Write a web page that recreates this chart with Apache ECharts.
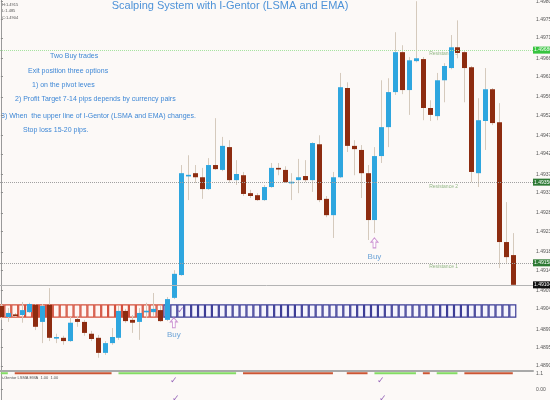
<!DOCTYPE html>
<html><head><meta charset="utf-8">
<script src="https://cdn.jsdelivr.net/npm/echarts@6/dist/echarts.min.js"></script>
<style>html,body{margin:0;padding:0;background:#fcf9f7}#c{width:550px;height:400px}</style>
</head><body><div id="c"></div>
<script>
// ---- data ----
const priceTicks = [1.498, 1.49755, 1.4971, 1.4966, 1.49615, 1.49565, 1.4952, 1.4947, 1.49425, 1.49375, 1.4933, 1.4928, 1.49235, 1.49185, 1.4914, 1.4909, 1.49045, 1.48995, 1.4895, 1.48905];
const opens = [1.49052,1.49025,1.49031,1.49030,1.49037,1.49055,1.49013,1.49055,1.48972,1.48974,1.48966,1.49020,1.49013,1.48984,1.48974,1.48937,1.48961,1.48974,1.49040,1.49018,1.49013,1.49037,1.49037,1.49042,1.49018,1.49072,1.49128,1.49371,1.49378,1.49368,1.49339,1.49398,1.49386,1.49442,1.49361,1.49373,1.49329,1.49324,1.49312,1.49344,1.49391,1.49386,1.49354,1.49361,1.49371,1.49361,1.49449,1.49315,1.49275,1.49368,1.49587,1.49445,1.49435,1.49378,1.49263,1.49420,1.49491,1.49577,1.49675,1.49582,1.49653,1.49658,1.49538,1.49518,1.49606,1.49636,1.49687,1.49675,1.49638,1.49378,1.49506,1.49584,1.49503,1.49209,1.49177];
const closes = [1.49025,1.49035,1.49028,1.49042,1.49057,1.49001,1.49052,1.48974,1.48976,1.48966,1.49011,1.49013,1.48986,1.48971,1.48937,1.48961,1.48976,1.49040,1.49015,1.49011,1.49035,1.49040,1.49045,1.49015,1.49069,1.49131,1.49378,1.49373,1.49368,1.49339,1.49398,1.49388,1.49445,1.49361,1.49376,1.49327,1.49322,1.49312,1.49344,1.49391,1.49387,1.49356,1.49356,1.49368,1.49361,1.49452,1.49312,1.49275,1.49368,1.49589,1.49445,1.49437,1.49378,1.49263,1.49420,1.49491,1.49577,1.49675,1.49582,1.49655,1.49660,1.49538,1.49521,1.49606,1.49641,1.49687,1.49673,1.49636,1.49381,1.49508,1.49584,1.49501,1.49209,1.49172,1.49104];
const highs = [1.49057,1.49047,1.49035,1.49062,1.49060,1.49057,1.49057,1.49096,1.48984,1.48979,1.49025,1.49028,1.49018,1.48991,1.48981,1.48966,1.48998,1.49052,1.49045,1.49030,1.49047,1.49060,1.49084,1.49052,1.49074,1.49140,1.49398,1.49422,1.49398,1.49391,1.49415,1.49513,1.49467,1.49459,1.49410,1.49381,1.49337,1.49329,1.49349,1.49403,1.49403,1.49395,1.49378,1.49413,1.49410,1.49454,1.49471,1.49322,1.49381,1.49624,1.49601,1.49459,1.49447,1.49398,1.49442,1.49606,1.49611,1.49724,1.49692,1.49663,1.49800,1.49663,1.49557,1.49624,1.49648,1.49717,1.49753,1.49680,1.49641,1.49562,1.49636,1.49587,1.49550,1.49307,1.49231];
const lows = [1.49018,1.49013,1.49025,1.49011,1.49035,1.48993,1.48961,1.48966,1.48961,1.48957,1.48964,1.49001,1.48979,1.48966,1.48925,1.48932,1.48957,1.48969,1.49011,1.48986,1.48969,1.49023,1.49028,1.49013,1.49015,1.49069,1.49126,1.49312,1.49354,1.49315,1.49337,1.49386,1.49383,1.49354,1.49349,1.49322,1.49317,1.49310,1.49310,1.49342,1.49373,1.49354,1.49312,1.49329,1.49356,1.49332,1.49307,1.49270,1.49219,1.49366,1.49430,1.49373,1.49317,1.49214,1.49231,1.49403,1.49442,1.49570,1.49572,1.49521,1.49650,1.49508,1.49506,1.49508,1.49552,1.49633,1.49660,1.49552,1.49356,1.49344,1.49435,1.49496,1.49145,1.49158,1.49101];
const levelNames = ['Resistance 3', 'Resistance 2', 'Resistance 1'];
const levelPrices = [1.49680, 1.49356, 1.49158];
const bidPrice = 1.49104;
const boxRuns = [[0, 23, 'sell'], [24, 74, 'buy']];
const boxBand = [1.49025, 1.49055];
const trendRuns = [[0,1,'up'],[2,16,'down'],[17,34,'up'],[35,48,'down'],[50,53,'down'],[54,60,'up'],[61,62,'down'],[63,66,'up'],[67,74,'down']];
const trendLevel = 1.1;
const indTicks = [0, 1.1];
const buyBars = [25, 54];
const buyArrowPrices = [1.49011, 1.49207];
const buyTextPrices = [1.48981, 1.49172];
const checkBars = [25, 55];
const notes = ['Two Buy trades', 'Exit position three options', '1) on the pivot leves', '2) Profit Target 7-14 pips depends by currency pairs', '3) When  the upper line of I-Gentor (LSMA and EMA) changes.', 'Stop loss 15-20 pips.'];

// ---- chart ----
const UP = '#2ea6df', DOWN = '#8d2c10', WICK = '#d5cabd';
const candleData = opens.map((o, i) => [i, o, closes[i], lows[i], highs[i]]);
const boxData = [];
boxRuns.forEach(([s, e, side]) => { for (let i = s; i <= e; i++) boxData.push([i, side === 'buy' ? 1 : 0]); });
const trendData = trendRuns.map(r => [r[0], r[1], r[2] === 'up' ? 1 : 0]);

function renderCandle(params, api) {
  const i = api.value(0), o = api.value(1), c = api.value(2), l = api.value(3), h = api.value(4);
  const pO = api.coord([i, o]), pC = api.coord([i, c]), pL = api.coord([i, l]), pH = api.coord([i, h]);
  const w = api.size([1, 0])[0] * 0.72;
  const x = Math.round(pO[0]) + 0.5;
  let top = Math.min(pO[1], pC[1]), bot = Math.max(pO[1], pC[1]);
  if (bot - top < 1.6) { const m = (top + bot) / 2; top = m - 0.8; bot = m + 0.8; }
  return { type: 'group', children: [
    { type: 'line', shape: { x1: x, y1: pH[1], x2: x, y2: pL[1] }, style: { stroke: WICK, lineWidth: 1 } },
    { type: 'rect', shape: { x: x - w / 2, y: top, width: w, height: bot - top }, style: { fill: c >= o ? UP : DOWN } }
  ]};
}
function renderBox(params, api) {
  const i = api.value(0), buy = api.value(1) === 1;
  const a = api.coord([i - 0.5, boxBand[1]]), b = api.coord([i + 0.5, boxBand[0]]);
  return { type: 'rect', shape: { x: a[0] + 0.5, y: a[1], width: b[0] - a[0] - 1, height: b[1] - a[1] },
    style: { fill: buy ? '#f5f4fc' : '#fff6f3', stroke: buy ? '#3d3d96' : '#d3503d', lineWidth: 1.2 } };
}
function renderTrend(params, api) {
  const a = api.coord([api.value(0), trendLevel]), b = api.coord([api.value(1), trendLevel]);
  return { type: 'line', shape: { x1: a[0], y1: a[1], x2: b[0], y2: b[1] },
    style: { stroke: api.value(2) === 1 ? '#83dc63' : '#cc5634', lineWidth: 2 } };
}

const axisBox = (bg) => ({ show: true, position: 'end', distance: 0, formatter: p => Number(p.value).toFixed(5),
  fontSize: 5, color: '#fff', backgroundColor: bg, padding: [1, 3, 1, 1], fontFamily: 'Liberation Sans' });

const chart = echarts.init(document.getElementById('c'), null, { renderer: 'canvas' });
const X0 = -0.13, X1 = 76.92;
const graphic = [
  { type: 'text', x: 230, y: 6, style: { text: 'Scalping System with I-Gentor (LSMA and EMA)', align: 'center', verticalAlign: 'middle', font: '11px "Liberation Sans"', fill: '#4d92d8' } },
  { type: 'text', x: 2, y: 5, style: { text: 'H:1.4915', verticalAlign: 'middle', font: '4px "Liberation Sans"', fill: '#555' } },
  { type: 'text', x: 2, y: 11, style: { text: 'L:1.485', verticalAlign: 'middle', font: '4px "Liberation Sans"', fill: '#555' } },
  { type: 'text', x: 2, y: 18, style: { text: 'C:1.4904', verticalAlign: 'middle', font: '4px "Liberation Sans"', fill: '#555' } },
  { type: 'text', x: 2, y: 378, style: { text: 'i-Gentor LSMA EMA  1.00  1.00', verticalAlign: 'middle', font: '4px "Liberation Sans"', fill: '#555' } }
];
const noteX = [50, 28, 32, 15, 1, 23], noteY = [56, 71, 85, 99, 116, 130];
notes.forEach((t, k) => graphic.push({ type: 'text', x: noteX[k], y: noteY[k], style: { text: t, verticalAlign: 'middle', font: '7px "Liberation Sans"', fill: '#3f88d6' } }));

chart.setOption({
  animation: false,
  backgroundColor: '#fcf9f7',
  grid: [
    { left: 0, right: 17, top: 0, height: 370, outerBoundsMode: 'none', containLabel: false },
    { left: 0, right: 17, top: 371, bottom: 0, outerBoundsMode: 'none', containLabel: false }
  ],
  xAxis: [
    { type: 'value', gridIndex: 0, min: X0, max: X1, show: false },
    { type: 'value', gridIndex: 1, min: X0, max: X1, position: 'top',
      axisLine: { show: true, onZero: false, lineStyle: { color: '#a9a9a9', width: 2 } },
      axisTick: { show: false }, axisLabel: { show: false }, splitLine: { show: false } }
  ],
  yAxis: [
    { type: 'value', gridIndex: 0, position: 'right', min: 1.48895, max: 1.49803, scale: true,
      axisLine: { show: true, lineStyle: { color: '#9a9a9a' } },
      axisTick: { show: true, length: 2, customValues: priceTicks, lineStyle: { color: '#888' } },
      axisLabel: { customValues: priceTicks, formatter: v => v.toFixed(5), fontSize: 5, color: '#555', margin: 3, fontFamily: 'Liberation Sans' },
      splitLine: { show: false } },
    { type: 'value', gridIndex: 1, position: 'right', min: -0.7, max: 1.25,
      axisLine: { show: true, lineStyle: { color: '#9a9a9a' } },
      axisTick: { show: true, length: 2, customValues: indTicks, lineStyle: { color: '#888' } },
      axisLabel: { customValues: indTicks, formatter: v => v === 0 ? '0.00' : String(v), fontSize: 5, color: '#555', margin: 3, fontFamily: 'Liberation Sans' },
      splitLine: { show: false } }
  ],
  graphic: graphic,
  series: [
    { type: 'scatter', xAxisIndex: 0, yAxisIndex: 0, z: 1, symbolSize: 1, itemStyle: { color: 'rgba(0,0,0,0)' },
      data: levelPrices.map((p, k) => ({ value: [64, p], name: levelNames[k] })),
      label: { show: true, position: 'inside', offset: [0, 4], formatter: p => p.name, fontSize: 5, fontFamily: 'Liberation Sans',
        color: '#7aa76c' },
      markLine: { silent: true, symbol: 'none', animation: false, precision: 5, data: [
        { yAxis: levelPrices[0], lineStyle: { color: '#a6e3a0', type: 'dotted', width: 1 }, label: axisBox('#37c43f') },
        { yAxis: levelPrices[1], lineStyle: { color: '#a0a0a0', type: 'dotted', width: 1 }, label: axisBox('#2d7a34') },
        { yAxis: levelPrices[2], lineStyle: { color: '#a0a0a0', type: 'dotted', width: 1 }, label: axisBox('#2d7a34') },
        { yAxis: bidPrice, lineStyle: { color: '#b4b4b4', type: 'solid', width: 1 }, label: axisBox('#111') }
      ] } },
    { type: 'custom', xAxisIndex: 0, yAxisIndex: 0, z: 2, renderItem: renderBox, data: boxData, clip: false },
    { type: 'custom', xAxisIndex: 0, yAxisIndex: 0, z: 3, renderItem: renderCandle, data: candleData },
    { type: 'scatter', xAxisIndex: 0, yAxisIndex: 0, z: 4,
      symbol: 'path://M5,0 L10,5 L7,5 L7,12 L3,12 L3,5 L0,5 Z', symbolSize: [7, 10],
      itemStyle: { color: '#fff', borderColor: '#c07ac8', borderWidth: 1 },
      data: buyBars.map((b, k) => [b, buyArrowPrices[k]]) },
    { type: 'scatter', xAxisIndex: 0, yAxisIndex: 0, z: 4, symbolSize: 1, itemStyle: { color: 'rgba(0,0,0,0)' },
      data: buyBars.map((b, k) => [b, buyTextPrices[k]]),
      label: { show: true, position: 'inside', formatter: 'Buy', fontSize: 8, color: '#4a8fd0', fontFamily: 'Liberation Sans' } },
    { type: 'scatter', xAxisIndex: 0, yAxisIndex: 0, z: 5, symbolSize: 1, itemStyle: { color: 'rgba(0,0,0,0)' },
      data: [[26, 1.49042]],
      label: { show: true, position: 'inside', formatter: '✓', fontSize: 9, color: '#7b3fa8' } },
    { type: 'custom', xAxisIndex: 1, yAxisIndex: 1, z: 3, renderItem: renderTrend, data: trendData },
    { type: 'scatter', xAxisIndex: 1, yAxisIndex: 1, z: 4, symbolSize: 1, itemStyle: { color: 'rgba(0,0,0,0)' },
      data: checkBars.flatMap(b => [[b, 0.6], [b + 0.3, -0.6]]),
      label: { show: true, position: 'inside', formatter: '✓', fontSize: 9, color: '#7b3fa8' } }
  ]
});
</script></body></html>
